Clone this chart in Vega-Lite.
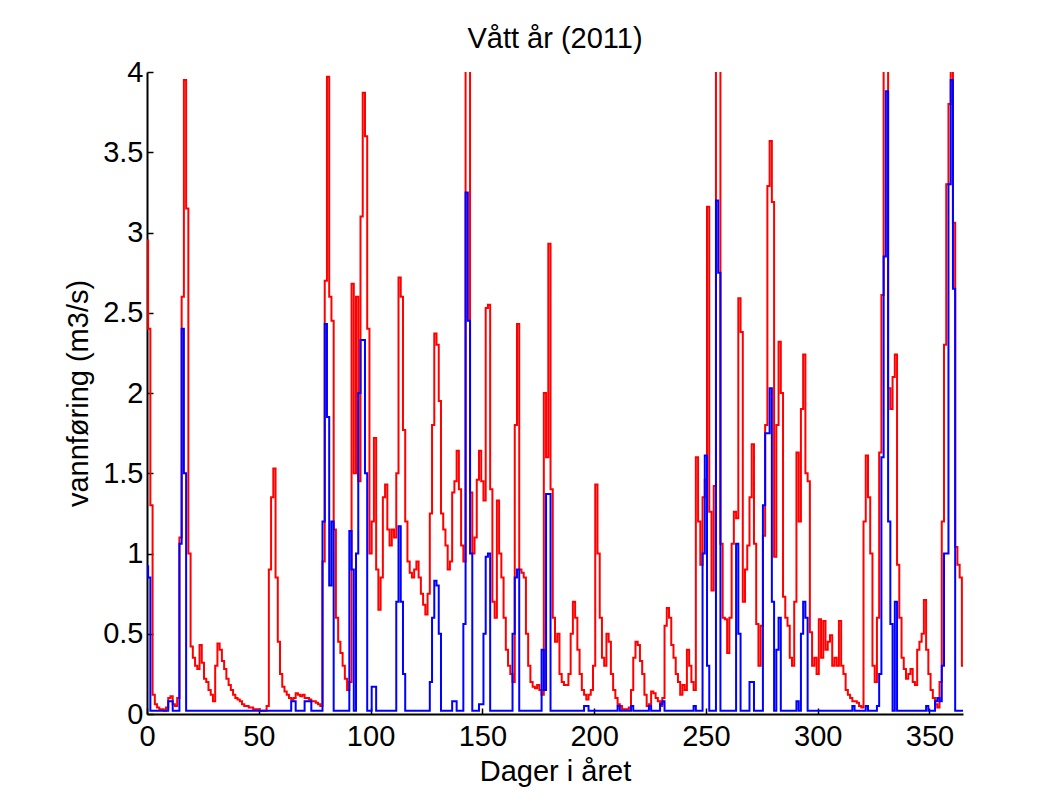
{
  "$schema": "https://vega.github.io/schema/vega-lite/v6.json",
  "width": 816,
  "height": 642,
  "autosize": {"type": "none"},
  "padding": {"left": 147, "top": 72, "right": 94, "bottom": 89},
  "background": "white",
  "title": {"text": "Vått år (2011)", "font": "Liberation Sans", "fontSize": 29, "fontWeight": "normal", "color": "black", "anchor": "middle", "frame": "group", "offset": 4},
  "data": {"values": [
{"d":0,"r":2.95,"b":0.92},{"d":1,"r":2.4,"b":0.85},{"d":2,"r":1.3,"b":0.02},{"d":3,"r":0.12,"b":0.02},{"d":4,"r":0.06,"b":0.02},{"d":5,"r":0.04,"b":0.02},{"d":6,"r":0.03,"b":0.02},{"d":7,"r":0.03,"b":0.02},{"d":8,"r":0.02,"b":0.02},{"d":9,"r":0.04,"b":0.02},
{"d":10,"r":0.1,"b":0.08},{"d":11,"r":0.11,"b":0.08},{"d":12,"r":0.06,"b":0.02},{"d":13,"r":0.05,"b":0.02},{"d":14,"r":0.1,"b":0.02},{"d":15,"r":1.1,"b":1.06},{"d":16,"r":2.6,"b":2.4},{"d":17,"r":3.95,"b":1.5},{"d":18,"r":3.15,"b":0.02},{"d":19,"r":1.0,"b":0.02},
{"d":20,"r":0.42,"b":0.02},{"d":21,"r":0.35,"b":0.02},{"d":22,"r":0.3,"b":0.02},{"d":23,"r":0.28,"b":0.02},{"d":24,"r":0.43,"b":0.02},{"d":25,"r":0.32,"b":0.02},{"d":26,"r":0.22,"b":0.02},{"d":27,"r":0.2,"b":0.02},{"d":28,"r":0.15,"b":0.02},{"d":29,"r":0.12,"b":0.02},
{"d":30,"r":0.08,"b":0.02},{"d":31,"r":0.3,"b":0.02},{"d":32,"r":0.44,"b":0.02},{"d":33,"r":0.4,"b":0.02},{"d":34,"r":0.33,"b":0.02},{"d":35,"r":0.28,"b":0.02},{"d":36,"r":0.22,"b":0.02},{"d":37,"r":0.18,"b":0.02},{"d":38,"r":0.15,"b":0.02},{"d":39,"r":0.12,"b":0.02},
{"d":40,"r":0.1,"b":0.02},{"d":41,"r":0.09,"b":0.02},{"d":42,"r":0.08,"b":0.02},{"d":43,"r":0.06,"b":0.02},{"d":44,"r":0.05,"b":0.02},{"d":45,"r":0.05,"b":0.02},{"d":46,"r":0.04,"b":0.02},{"d":47,"r":0.04,"b":0.02},{"d":48,"r":0.03,"b":0.02},{"d":49,"r":0.03,"b":0.02},
{"d":50,"r":0.03,"b":0.02},{"d":51,"r":0.02,"b":0.02},{"d":52,"r":0.02,"b":0.02},{"d":53,"r":0.02,"b":0.02},{"d":54,"r":0.05,"b":0.02},{"d":55,"r":0.9,"b":0.02},{"d":56,"r":1.35,"b":0.02},{"d":57,"r":1.53,"b":0.02},{"d":58,"r":0.85,"b":0.02},{"d":59,"r":0.45,"b":0.02},
{"d":60,"r":0.25,"b":0.02},{"d":61,"r":0.17,"b":0.02},{"d":62,"r":0.14,"b":0.02},{"d":63,"r":0.12,"b":0.02},{"d":64,"r":0.1,"b":0.02},{"d":65,"r":0.09,"b":0.08},{"d":66,"r":0.1,"b":0.08},{"d":67,"r":0.13,"b":0.02},{"d":68,"r":0.12,"b":0.02},{"d":69,"r":0.11,"b":0.02},
{"d":70,"r":0.12,"b":0.02},{"d":71,"r":0.1,"b":0.08},{"d":72,"r":0.1,"b":0.08},{"d":73,"r":0.09,"b":0.08},{"d":74,"r":0.08,"b":0.02},{"d":75,"r":0.08,"b":0.02},{"d":76,"r":0.07,"b":0.02},{"d":77,"r":0.06,"b":0.02},{"d":78,"r":0.05,"b":0.02},{"d":79,"r":0.95,"b":1.2},
{"d":80,"r":2.7,"b":2.43},{"d":81,"r":3.97,"b":1.85},{"d":82,"r":2.6,"b":0.8},{"d":83,"r":2.45,"b":1.2},{"d":84,"r":1.15,"b":0.02},{"d":85,"r":0.6,"b":0.02},{"d":86,"r":0.45,"b":0.02},{"d":87,"r":0.38,"b":0.02},{"d":88,"r":0.3,"b":0.02},{"d":89,"r":0.22,"b":0.02},
{"d":90,"r":0.15,"b":0.02},{"d":91,"r":0.2,"b":1.14},{"d":92,"r":2.68,"b":0.9},{"d":93,"r":1.5,"b":0.02},{"d":94,"r":2.6,"b":1.0},{"d":95,"r":1.45,"b":2.0},{"d":96,"r":3.1,"b":2.33},{"d":97,"r":3.87,"b":2.33},{"d":98,"r":3.6,"b":1.5},{"d":99,"r":2.4,"b":0.02},
{"d":100,"r":1.0,"b":0.02},{"d":101,"r":1.2,"b":0.17},{"d":102,"r":1.72,"b":0.17},{"d":103,"r":0.9,"b":0.02},{"d":104,"r":0.65,"b":0.02},{"d":105,"r":0.85,"b":0.02},{"d":106,"r":1.35,"b":0.02},{"d":107,"r":1.43,"b":0.02},{"d":108,"r":1.15,"b":0.02},{"d":109,"r":1.05,"b":0.02},
{"d":110,"r":1.15,"b":0.02},{"d":111,"r":1.1,"b":0.02},{"d":112,"r":1.5,"b":0.7},{"d":113,"r":2.72,"b":1.17},{"d":114,"r":2.6,"b":0.7},{"d":115,"r":1.77,"b":0.25},{"d":116,"r":1.2,"b":0.02},{"d":117,"r":0.95,"b":0.02},{"d":118,"r":0.88,"b":0.02},{"d":119,"r":0.85,"b":0.02},
{"d":120,"r":0.9,"b":0.02},{"d":121,"r":0.95,"b":0.02},{"d":122,"r":0.85,"b":0.02},{"d":123,"r":0.75,"b":0.02},{"d":124,"r":0.68,"b":0.02},{"d":125,"r":0.62,"b":0.02},{"d":126,"r":0.75,"b":0.02},{"d":127,"r":1.25,"b":0.2},{"d":128,"r":1.8,"b":0.6},{"d":129,"r":2.37,"b":0.83},
{"d":130,"r":2.3,"b":0.8},{"d":131,"r":1.95,"b":0.5},{"d":132,"r":1.25,"b":0.02},{"d":133,"r":1.15,"b":0.02},{"d":134,"r":1.05,"b":0.02},{"d":135,"r":0.9,"b":0.02},{"d":136,"r":0.95,"b":0.02},{"d":137,"r":1.38,"b":0.08},{"d":138,"r":1.45,"b":0.08},{"d":139,"r":1.64,"b":0.02},
{"d":140,"r":1.4,"b":0.02},{"d":141,"r":1.05,"b":0.02},{"d":142,"r":0.95,"b":0.56},{"d":143,"r":4.6,"b":3.25},{"d":144,"r":4.8,"b":2.45},{"d":145,"r":1.38,"b":1.0},{"d":146,"r":1.0,"b":0.02},{"d":147,"r":1.1,"b":0.02},{"d":148,"r":1.46,"b":0.02},{"d":149,"r":1.64,"b":0.06},
{"d":150,"r":1.45,"b":0.06},{"d":151,"r":1.33,"b":0.5},{"d":152,"r":2.53,"b":0.98},{"d":153,"r":2.55,"b":1.0},{"d":154,"r":1.4,"b":0.02},{"d":155,"r":0.7,"b":0.02},{"d":156,"r":0.6,"b":0.02},{"d":157,"r":1.33,"b":0.02},{"d":158,"r":1.0,"b":0.02},{"d":159,"r":0.85,"b":0.02},
{"d":160,"r":0.6,"b":0.02},{"d":161,"r":0.4,"b":0.02},{"d":162,"r":0.3,"b":0.02},{"d":163,"r":0.25,"b":0.02},{"d":164,"r":0.2,"b":0.5},{"d":165,"r":1.8,"b":0.85},{"d":166,"r":2.43,"b":0.9},{"d":167,"r":0.9,"b":0.02},{"d":168,"r":0.88,"b":0.02},{"d":169,"r":0.85,"b":0.02},
{"d":170,"r":0.5,"b":0.02},{"d":171,"r":0.3,"b":0.02},{"d":172,"r":0.2,"b":0.02},{"d":173,"r":0.17,"b":0.02},{"d":174,"r":0.16,"b":0.02},{"d":175,"r":0.18,"b":0.02},{"d":176,"r":0.15,"b":0.02},{"d":177,"r":0.12,"b":0.4},{"d":178,"r":2.0,"b":0.15},{"d":179,"r":1.6,"b":1.37},
{"d":180,"r":2.93,"b":1.37},{"d":181,"r":1.4,"b":0.02},{"d":182,"r":0.6,"b":0.02},{"d":183,"r":0.45,"b":0.02},{"d":184,"r":0.5,"b":0.02},{"d":185,"r":0.25,"b":0.02},{"d":186,"r":0.2,"b":0.02},{"d":187,"r":0.18,"b":0.02},{"d":188,"r":0.18,"b":0.02},{"d":189,"r":0.25,"b":0.02},
{"d":190,"r":0.5,"b":0.02},{"d":191,"r":0.7,"b":0.02},{"d":192,"r":0.6,"b":0.02},{"d":193,"r":0.4,"b":0.02},{"d":194,"r":0.25,"b":0.02},{"d":195,"r":0.15,"b":0.02},{"d":196,"r":0.12,"b":0.05},{"d":197,"r":0.09,"b":0.05},{"d":198,"r":0.12,"b":0.02},{"d":199,"r":0.15,"b":0.02},
{"d":200,"r":0.3,"b":0.02},{"d":201,"r":1.43,"b":0.02},{"d":202,"r":1.0,"b":0.02},{"d":203,"r":0.6,"b":0.02},{"d":204,"r":0.35,"b":0.02},{"d":205,"r":0.3,"b":0.02},{"d":206,"r":0.5,"b":0.02},{"d":207,"r":0.45,"b":0.02},{"d":208,"r":0.25,"b":0.02},{"d":209,"r":0.15,"b":0.02},
{"d":210,"r":0.1,"b":0.02},{"d":211,"r":0.06,"b":0.05},{"d":212,"r":0.05,"b":0.02},{"d":213,"r":0.03,"b":0.02},{"d":214,"r":0.03,"b":0.02},{"d":215,"r":0.03,"b":0.02},{"d":216,"r":0.04,"b":0.02},{"d":217,"r":0.15,"b":0.05},{"d":218,"r":0.35,"b":0.02},{"d":219,"r":0.45,"b":0.02},
{"d":220,"r":0.43,"b":0.02},{"d":221,"r":0.33,"b":0.02},{"d":222,"r":0.25,"b":0.02},{"d":223,"r":0.12,"b":0.02},{"d":224,"r":0.05,"b":0.02},{"d":225,"r":0.06,"b":0.05},{"d":226,"r":0.14,"b":0.02},{"d":227,"r":0.13,"b":0.02},{"d":228,"r":0.1,"b":0.02},{"d":229,"r":0.08,"b":0.02},
{"d":230,"r":0.05,"b":0.06},{"d":231,"r":0.1,"b":0.08},{"d":232,"r":0.55,"b":0.02},{"d":233,"r":0.66,"b":0.02},{"d":234,"r":0.6,"b":0.02},{"d":235,"r":0.43,"b":0.02},{"d":236,"r":0.35,"b":0.02},{"d":237,"r":0.25,"b":0.02},{"d":238,"r":0.2,"b":0.02},{"d":239,"r":0.12,"b":0.02},
{"d":240,"r":0.18,"b":0.02},{"d":241,"r":0.15,"b":0.02},{"d":242,"r":0.4,"b":0.02},{"d":243,"r":0.3,"b":0.02},{"d":244,"r":0.2,"b":0.02},{"d":245,"r":0.15,"b":0.05},{"d":246,"r":1.6,"b":0.02},{"d":247,"r":1.2,"b":0.02},{"d":248,"r":0.93,"b":0.02},{"d":249,"r":1.35,"b":1.0},
{"d":250,"r":1.46,"b":1.61},{"d":251,"r":3.16,"b":0.3},{"d":252,"r":1.26,"b":0.02},{"d":253,"r":0.77,"b":0.02},{"d":254,"r":1.42,"b":0.02},{"d":255,"r":4.6,"b":3.2},{"d":256,"r":4.6,"b":2.75},{"d":257,"r":1.06,"b":0.02},{"d":258,"r":0.6,"b":0.02},{"d":259,"r":0.59,"b":0.02},
{"d":260,"r":0.38,"b":0.02},{"d":261,"r":0.6,"b":0.02},{"d":262,"r":1.06,"b":0.02},{"d":263,"r":1.26,"b":0.02},{"d":264,"r":1.22,"b":1.06},{"d":265,"r":2.59,"b":0.5},{"d":266,"r":2.38,"b":0.02},{"d":267,"r":0.7,"b":0.02},{"d":268,"r":0.9,"b":0.02},{"d":269,"r":1.05,"b":0.02},
{"d":270,"r":1.35,"b":0.2},{"d":271,"r":1.68,"b":0.2},{"d":272,"r":1.06,"b":0.02},{"d":273,"r":0.56,"b":0.02},{"d":274,"r":0.3,"b":0.02},{"d":275,"r":0.55,"b":0.02},{"d":276,"r":1.11,"b":1.3},{"d":277,"r":1.8,"b":1.75},{"d":278,"r":3.29,"b":1.75},{"d":279,"r":3.57,"b":2.03},
{"d":280,"r":3.19,"b":0.7},{"d":281,"r":0.98,"b":0.02},{"d":282,"r":1.8,"b":0.4},{"d":283,"r":2.32,"b":0.6},{"d":284,"r":2.0,"b":0.02},{"d":285,"r":0.73,"b":0.02},{"d":286,"r":0.6,"b":0.02},{"d":287,"r":0.55,"b":0.02},{"d":288,"r":0.35,"b":0.02},{"d":289,"r":0.3,"b":0.02},
{"d":290,"r":0.7,"b":0.02},{"d":291,"r":1.63,"b":0.08},{"d":292,"r":1.2,"b":0.02},{"d":293,"r":1.9,"b":0.5},{"d":294,"r":2.24,"b":0.7},{"d":295,"r":1.5,"b":0.6},{"d":296,"r":1.45,"b":0.02},{"d":297,"r":0.51,"b":0.02},{"d":298,"r":0.3,"b":0.02},{"d":299,"r":0.35,"b":0.02},
{"d":300,"r":0.25,"b":0.02},{"d":301,"r":0.59,"b":0.02},{"d":302,"r":0.35,"b":0.02},{"d":303,"r":0.58,"b":0.02},{"d":304,"r":0.4,"b":0.02},{"d":305,"r":0.45,"b":0.02},{"d":306,"r":0.49,"b":0.02},{"d":307,"r":0.3,"b":0.02},{"d":308,"r":0.35,"b":0.02},{"d":309,"r":0.3,"b":0.02},
{"d":310,"r":0.58,"b":0.02},{"d":311,"r":0.3,"b":0.02},{"d":312,"r":0.25,"b":0.02},{"d":313,"r":0.15,"b":0.02},{"d":314,"r":0.12,"b":0.02},{"d":315,"r":0.1,"b":0.02},{"d":316,"r":0.08,"b":0.05},{"d":317,"r":0.08,"b":0.02},{"d":318,"r":0.07,"b":0.02},{"d":319,"r":0.05,"b":0.02},
{"d":320,"r":0.04,"b":0.02},{"d":321,"r":1.2,"b":0.02},{"d":322,"r":1.61,"b":0.05},{"d":323,"r":1.35,"b":0.02},{"d":324,"r":1.0,"b":0.02},{"d":325,"r":0.3,"b":0.02},{"d":326,"r":0.2,"b":0.02},{"d":327,"r":0.6,"b":0.05},{"d":328,"r":1.63,"b":0.25},{"d":329,"r":2.61,"b":1.6},
{"d":330,"r":4.6,"b":2.85},{"d":331,"r":4.6,"b":3.88},{"d":332,"r":2.03,"b":1.2},{"d":333,"r":1.9,"b":0.56},{"d":334,"r":2.1,"b":0.02},{"d":335,"r":2.24,"b":0.7},{"d":336,"r":0.93,"b":0.02},{"d":337,"r":0.6,"b":0.02},{"d":338,"r":0.35,"b":0.02},{"d":339,"r":0.28,"b":0.02},
{"d":340,"r":0.22,"b":0.02},{"d":341,"r":0.25,"b":0.02},{"d":342,"r":0.28,"b":0.02},{"d":343,"r":0.2,"b":0.02},{"d":344,"r":0.18,"b":0.02},{"d":345,"r":0.4,"b":0.02},{"d":346,"r":0.45,"b":0.02},{"d":347,"r":0.5,"b":0.02},{"d":348,"r":0.71,"b":0.02},{"d":349,"r":0.4,"b":0.05},
{"d":350,"r":0.25,"b":0.02},{"d":351,"r":0.15,"b":0.02},{"d":352,"r":0.1,"b":0.02},{"d":353,"r":0.06,"b":0.08},{"d":354,"r":0.04,"b":0.1},{"d":355,"r":0.2,"b":0.08},{"d":356,"r":1.2,"b":0.3},{"d":357,"r":2.3,"b":1.0},{"d":358,"r":3.3,"b":1.0},{"d":359,"r":3.8,"b":3.3},
{"d":360,"r":4.6,"b":3.95},{"d":361,"r":3.06,"b":2.65},{"d":362,"r":1.04,"b":0.02},{"d":363,"r":0.93,"b":0.02},{"d":364,"r":0.85,"b":0.02},{"d":365,"r":0.3,"b":0.02}
  ]},
  "encoding": {
    "x": {"field": "d", "type": "quantitative", "title": "Dager i året",
      "scale": {"domain": [0, 365], "nice": false, "zero": false},
      "axis": {"values": [0, 50, 100, 150, 200, 250, 300, 350], "tickSize": -6, "labelPadding": 14, "titlePadding": 6, "labelFlush": false}}
  },
  "layer": [
    {"mark": {"type": "line", "color": "#ff0000", "strokeWidth": 2, "clip": true, "interpolate": "step", "strokeJoin": "miter"},
     "encoding": {"y": {"field": "r", "type": "quantitative", "title": "vannføring (m3/s)",
       "scale": {"domain": [0, 4], "nice": false},
       "axis": {"values": [0, 0.5, 1, 1.5, 2, 2.5, 3, 3.5, 4], "format": "~g", "tickSize": -6, "labelPadding": 10, "titlePadding": 9}}}},
    {"mark": {"type": "line", "color": "#0000ff", "strokeWidth": 2, "clip": true, "interpolate": "step", "strokeJoin": "miter"},
     "encoding": {"y": {"field": "b", "type": "quantitative", "title": "vannføring (m3/s)"}}}
  ],
  "config": {
    "view": {"stroke": null},
    "axis": {"grid": false, "domainColor": "black", "domainWidth": 2, "tickColor": "black", "tickWidth": 1.5,
      "labelFont": "Liberation Sans", "labelFontSize": 29, "labelColor": "black",
      "titleFont": "Liberation Sans", "titleFontSize": 29, "titleFontWeight": "normal", "titleColor": "black"}
  }
}
